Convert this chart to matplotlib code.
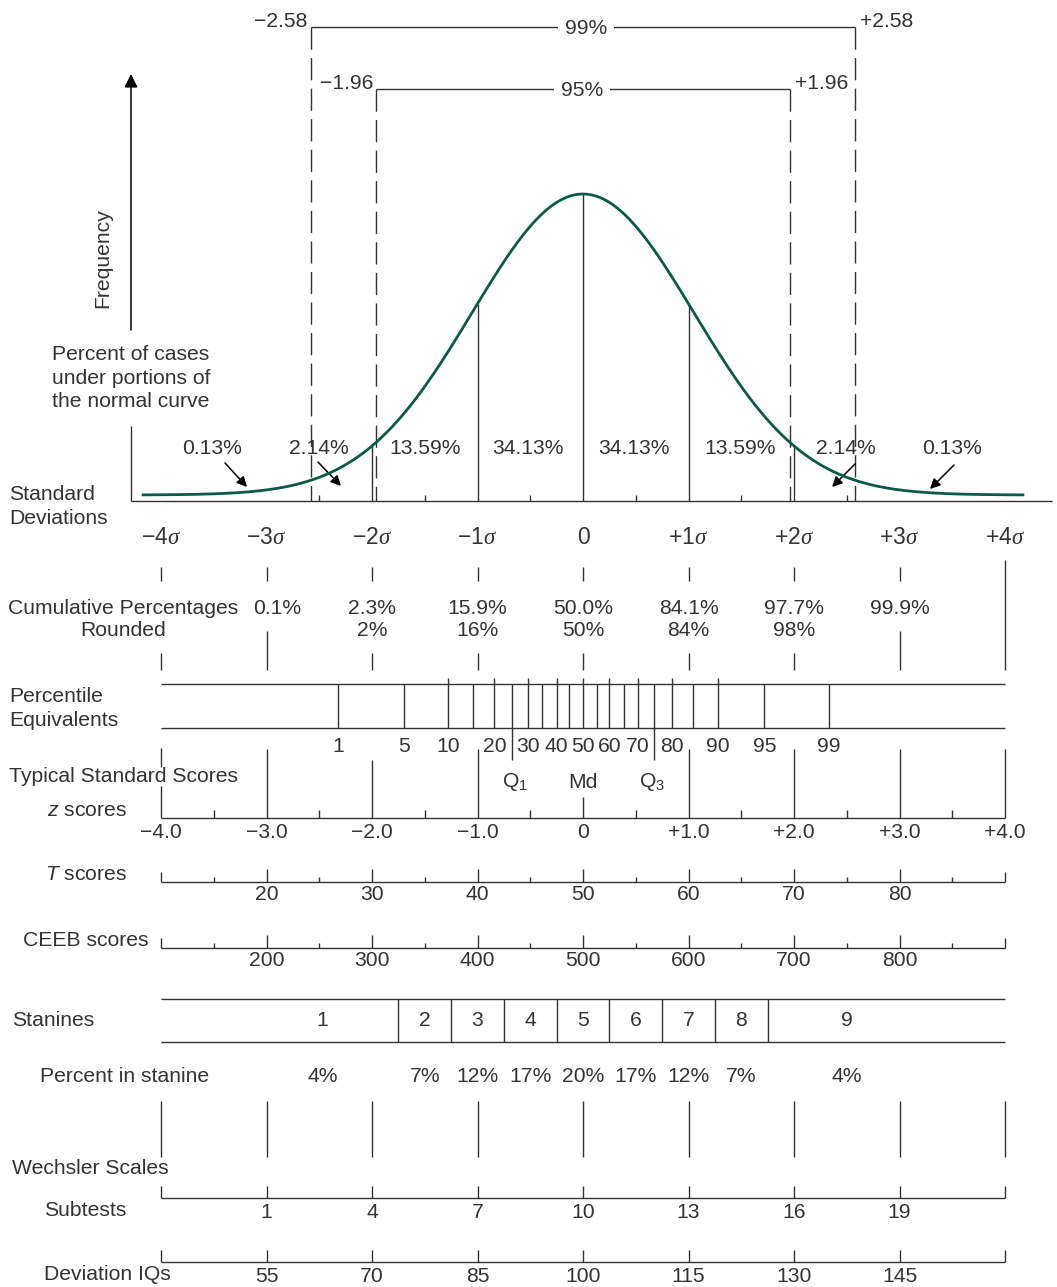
import numpy as np
import matplotlib.pyplot as plt

plt.rcParams['font.family'] = ['Liberation Sans', 'DejaVu Sans']
plt.rcParams['mathtext.fontset'] = 'custom'
plt.rcParams['mathtext.rm'] = 'Liberation Sans'
plt.rcParams['mathtext.it'] = 'Liberation Serif:italic'
plt.rcParams['mathtext.sf'] = 'Liberation Sans:italic'

# ---- data -------------------------------------------------------------
sigma_pos = [-4, -3, -2, -1, 0, 1, 2, 3, 4]
sigma_labels = [r'$-4\sigma$', r'$-3\sigma$', r'$-2\sigma$', r'$-1\sigma$', '0',
                r'$+1\sigma$', r'$+2\sigma$', r'$+3\sigma$', r'$+4\sigma$']

area_pos = [-3.52, -2.5, -1.5, -0.52, 0.48, 1.49, 2.49, 3.5]
area_pct = ['0.13%', '2.14%', '13.59%', '34.13%', '34.13%', '13.59%', '2.14%', '0.13%']

ci_z = [1.96, 2.58]
ci_labels = ['95%', '99%']

cum_pos = [-2.9, -2, -1, 0, 1, 2, 3]
cum_pct = ['0.1%', '2.3%', '15.9%', '50.0%', '84.1%', '97.7%', '99.9%']
rounded_pos = [-2, -1, 0, 1, 2]
rounded_pct = ['2%', '16%', '50%', '84%', '98%']

percentiles = [1, 5, 10, 15, 20, 25, 30, 35, 40, 45, 50, 55, 60, 65, 70, 75, 80, 85, 90, 95, 99]
percentile_z = [-2.32, -1.70, -1.28, -1.04, -0.84, -0.67, -0.52, -0.39, -0.25, -0.13, 0.0,
                0.13, 0.25, 0.39, 0.52, 0.67, 0.84, 1.04, 1.28, 1.72, 2.33]
labeled_percentiles = [1, 5, 10, 20, 30, 40, 50, 60, 70, 80, 90, 95, 99]
quartile_labels = ['Q$_1$', 'Md', 'Q$_3$']
quartile_z = [-0.64, 0.0, 0.65]

z_labels = ['\u22124.0', '\u22123.0', '\u22122.0', '\u22121.0', '0', '+1.0', '+2.0', '+3.0', '+4.0']
t_scores = [20, 30, 40, 50, 60, 70, 80]
ceeb_scores = [200, 300, 400, 500, 600, 700, 800]
score_z = [-3, -2, -1, 0, 1, 2, 3]

stanines = [1, 2, 3, 4, 5, 6, 7, 8, 9]
stanine_z = [-2.47, -1.5, -1.0, -0.5, 0.0, 0.5, 1.0, 1.5, 2.5]
stanine_edges = [-1.75, -1.25, -0.75, -0.25, 0.25, 0.75, 1.25, 1.75]
stanine_pct = ['4%', '7%', '12%', '17%', '20%', '17%', '12%', '7%', '4%']

subtests = [1, 4, 7, 10, 13, 16, 19]
deviation_iqs = [55, 70, 85, 100, 115, 130, 145]

# ---- layout -----------------------------------------------------------
X0, SX = 583, 105.5          # pixel position of z=0, pixels per sigma
W, H = 1057, 1287
INK = '#333333'
FS = 15.2
LW = 1.0


def lx(px):
    return (px - X0) / SX


fig = plt.figure(figsize=(W / 100, H / 100), dpi=100)
ax = fig.add_axes([0, 0, 1, 1])
ax.set_xlim(lx(0), lx(W))
ax.set_ylim(H, 0)
ax.axis('off')


def vline(z, y0, y1, **kw):
    kw.setdefault('color', INK)
    kw.setdefault('lw', LW)
    ax.plot([z, z], [y0, y1], solid_capstyle='butt', **kw)


def hline(y, z0, z1, **kw):
    kw.setdefault('color', INK)
    kw.setdefault('lw', LW)
    ax.plot([z0, z1], [y, y], solid_capstyle='butt', **kw)


def txt(z, y, s, ha='center', va='center', **kw):
    kw.setdefault('fontsize', FS)
    ax.text(z, y, s, ha=ha, va=va, color=INK, **kw)


# ---- normal curve -----------------------------------------------------
BASE, CURVE_FLOOR, PEAK, WIDTH = 501, 495, 194, 1.05


def curve_y(z):
    return CURVE_FLOOR - (CURVE_FLOOR - PEAK) * np.exp(-0.5 * (np.asarray(z) / WIDTH) ** 2)


zz = np.linspace(-4.17, 4.17, 500)
ax.plot(zz, curve_y(zz), color='#0b5a48', lw=2.0, zorder=4)

hline(BASE, lx(131), lx(1052))
vline(lx(131), 426, BASE)
ax.annotate('', xy=(lx(131), 74), xytext=(lx(131), 330),
            arrowprops=dict(arrowstyle='-|>', color='black', lw=1.1,
                            mutation_scale=20, shrinkA=0, shrinkB=0))
txt(lx(103), 258, 'Frequency', rotation=90)
txt(lx(131), 378, 'Percent of cases\nunder portions of\nthe normal curve', linespacing=1.3)

for z in [-2, -1, 0, 1, 2]:
    vline(z, curve_y(z), BASE)
for z in [-2.5, -1.5, -0.5, 0.5, 1.5, 2.5]:
    vline(z, BASE - 6, BASE)

# confidence brackets
bracket_y = {1.96: 89, 2.58: 27}
label_x = {1.96: 582, 2.58: 586}
for z, lab in zip(ci_z, ci_labels):
    y = bracket_y[z]
    hline(y, -z, z)
    for s in (-z, z):
        vline(s, y, BASE, linestyle=(0, (16, 6)))
    txt(lx(label_x[z]), y + 1, lab,
        bbox=dict(facecolor='white', edgecolor='none', pad=5))
    txt(-z - 0.03, y, '\u2212%.2f' % z, ha='right', va='baseline')
    txt(z + 0.05, y, '+%.2f' % z, ha='left', va='baseline')

for z, s in zip(area_pos, area_pct):
    txt(z, 448, s)

arrows = [((225, 463), (247, 487)), ((318, 462), (341, 486)),
          ((855, 464), (832, 487)), ((954, 465), (930, 489))]
for (x0, y0), (x1, y1) in arrows:
    ax.annotate('', xy=(lx(x1), y1), xytext=(lx(x0), y0),
                arrowprops=dict(arrowstyle='-|>', color='black', lw=1.1,
                                mutation_scale=15, shrinkA=0, shrinkB=0))

# ---- standard deviations / cumulative ---------------------------------
txt(lx(9), 494, 'Standard', ha='left')
txt(lx(9), 519, 'Deviations', ha='left')
for z, s in zip(sigma_pos, sigma_labels):
    txt(z, 537, s, fontsize=16.5)
    if z == 4:
        vline(z, 560, 670)
        continue
    vline(z, 567, 581)
    vline(z, 631 if abs(z) == 3 else 653, 670)

txt(lx(8), 608, 'Cumulative Percentages', ha='left')
txt(lx(166), 631, 'Rounded', ha='right')
for z, s in zip(cum_pos, cum_pct):
    txt(z, 608, s)
for z, s in zip(rounded_pos, rounded_pct):
    txt(z, 631, s)

# ---- percentile equivalents ------------------------------------------
txt(lx(9), 696, 'Percentile', ha='left')
txt(lx(9), 720, 'Equivalents', ha='left')
hline(684, -4, 4)
hline(728, -4, 4)
for p, z in zip(percentiles, percentile_z):
    if p in (25, 75):
        vline(z, 684, 760)
    elif p % 10 == 0:
        vline(z, 678, 728)
    else:
        vline(z, 684, 728)
    if p in labeled_percentiles:
        txt(z, 747, str(p))
for s, z in zip(quartile_labels, quartile_z):
    txt(z, 782, s)
vline(0, 797, 818)

# ---- z scores ---------------------------------------------------------
txt(lx(9), 776, 'Typical Standard Scores', ha='left')
txt(lx(127), 811, r'$\mathsf{z}$ scores', ha='right')
hline(818, -4, 4)
for z, s in zip(sigma_pos, z_labels):
    if z == 0:
        pass
    elif z == -4:
        vline(z, 748, 767)
        vline(z, 786, 818)
    else:
        vline(z, 760 if z == -2 else 749, 818)
    txt(z, 833, s)
for z in np.arange(-3.5, 4, 1.0):
    vline(z, 810, 818)


def score_axis(y, labels, name, name_x):
    hline(y, -4, 4)
    for z in (-4, 4):
        vline(z, y - 10, y)
    for z in np.arange(-3.5, 4, 1.0):
        vline(z, y - 5, y)
    for z, s in zip(score_z, labels):
        vline(z, y - 13, y)
        txt(z, y + 13, str(s))
    txt(lx(name_x), y - 7, name, ha='right')


score_axis(882, t_scores, r'$\mathsf{T}$ scores', 127)
score_axis(948, ceeb_scores, 'CEEB scores', 149)

# ---- stanines ---------------------------------------------------------
txt(lx(12), 1021, 'Stanines', ha='left')
hline(999, -4, 4)
hline(1042, -4, 4)
for z in stanine_edges:
    vline(z, 999, 1042)
for z, s in zip(stanine_z, stanines):
    txt(z, 1021, str(s))

txt(lx(40), 1077, 'Percent in stanine', ha='left')
for z, s in zip(stanine_z, stanine_pct):
    txt(z, 1077, s)
for z in sigma_pos:
    vline(z, 1101, 1157)

# ---- Wechsler ---------------------------------------------------------
txt(lx(12), 1169, 'Wechsler Scales', ha='left')


def wechsler_axis(y, labels, name, name_y):
    hline(y, -4, 4)
    for z in sigma_pos:
        vline(z, y - 12, y)
    for z, s in zip(score_z, labels):
        txt(z, y + 14, str(s))
    txt(lx(44), name_y, name, ha='left')


wechsler_axis(1198, subtests, 'Subtests', 1210)
wechsler_axis(1262, deviation_iqs, 'Deviation IQs', 1275)

fig.savefig('out.png', dpi=100)
